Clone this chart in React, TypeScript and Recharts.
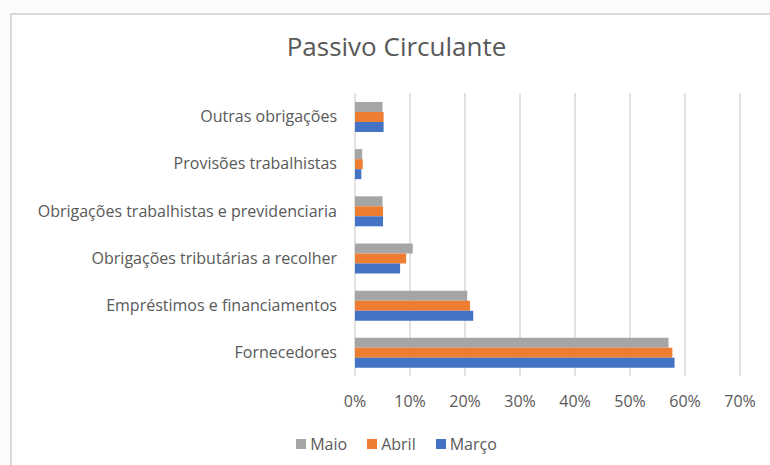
import React from "react";
import { BarChart, Bar, XAxis, YAxis, CartesianGrid, Legend } from "recharts";

// ---------------------------------------------------------------------------
// Data (shares of current liabilities)
// ---------------------------------------------------------------------------

const categories = [
  "Outras obrigações",
  "Provisões trabalhistas",
  "Obrigações trabalhistas e previdenciaria",
  "Obrigações tributárias a recolher",
  "Empréstimos e financiamentos",
  "Fornecedores",
];

const seriesNames = ["Maio", "Abril", "Março"];
const maio = [0.05, 0.013, 0.05, 0.105, 0.204, 0.57];
const abril = [0.052, 0.014, 0.051, 0.093, 0.209, 0.577];
const marco = [0.052, 0.0115, 0.051, 0.082, 0.215, 0.581];

const xTicks = [0, 0.1, 0.2, 0.3, 0.4, 0.5, 0.6, 0.7];

const data = categories.map((name, i) => ({
  name,
  maio: maio[i],
  abril: abril[i],
  marco: marco[i],
}));

const FONT = "'Open Sans', sans-serif";
const TEXT = "#595959";

const pct = (v: number) => Math.round(v * 100) + "%";

// legend keeps the series order (recharts 3 sorts by name otherwise)
function LegendContent({ payload }: any) {
  const items = [...(payload || [])].sort(
    (a: any, b: any) => seriesNames.indexOf(a.value) - seriesNames.indexOf(b.value)
  );
  return (
    <div style={{ display: "flex", justifyContent: "center", fontFamily: FONT, fontSize: 16, color: TEXT }}>
      {items.map((p: any) => (
        <div key={p.value} style={{ display: "flex", alignItems: "center", margin: "0 10px" }}>
          <span style={{ width: 10, height: 10, background: p.color, marginRight: 4, display: "inline-block" }} />
          <span>{p.value}</span>
        </div>
      ))}
    </div>
  );
}

export default function App() {
  return (
    <div
      style={{
        position: "absolute",
        left: 0,
        top: 0,
        width: 770,
        height: 465,
        background: "#fdfcfa",
        overflow: "hidden",
      }}
    >
      <div
        style={{
          position: "absolute",
          left: 10,
          top: 13,
          width: 780,
          height: 470,
          border: "2px solid #d9d9d9",
          background: "#ffffff",
        }}
      />
      <div
        style={{
          position: "absolute",
          left: 0,
          top: 28,
          width: 793,
          textAlign: "center",
          fontFamily: FONT,
          fontSize: 26,
          color: TEXT,
        }}
      >
        Passivo Circulante
      </div>
      <div style={{ position: "absolute", left: 0, top: 0 }}>
        <BarChart
          width={770}
          height={465}
          data={data}
          layout="vertical"
          margin={{ top: 93, right: 30, bottom: 0, left: 0 }}
          barCategoryGap="19%"
          barGap={0}
        >
          <CartesianGrid horizontal={false} stroke="#d9d9d9" strokeWidth={1.5} />
          <XAxis
            type="number"
            domain={[0, 0.7]}
            ticks={xTicks}
            tickFormatter={pct}
            axisLine={false}
            tickLine={false}
            tickSize={0}
            tickMargin={20}
            height={89}
            tick={{ fill: TEXT, fontSize: 16, fontFamily: FONT }}
          />
          <YAxis
            type="category"
            dataKey="name"
            width={355}
            axisLine={false}
            tickLine={false}
            tickSize={0}
            tickMargin={18}
            interval={0}
            tick={{ fill: TEXT, fontSize: 16, fontFamily: FONT }}
          />
          <Legend
            layout="horizontal"
            verticalAlign="middle"
            align="center"
            content={<LegendContent />}
            wrapperStyle={{ position: "absolute", top: 433, left: 0, width: 793 }}
          />
          <Bar dataKey="maio" name="Maio" fill="#a5a5a5" isAnimationActive={false} />
          <Bar dataKey="abril" name="Abril" fill="#ed7d31" isAnimationActive={false} />
          <Bar dataKey="marco" name="Março" fill="#4472c4" isAnimationActive={false} />
        </BarChart>
      </div>
    </div>
  );
}
